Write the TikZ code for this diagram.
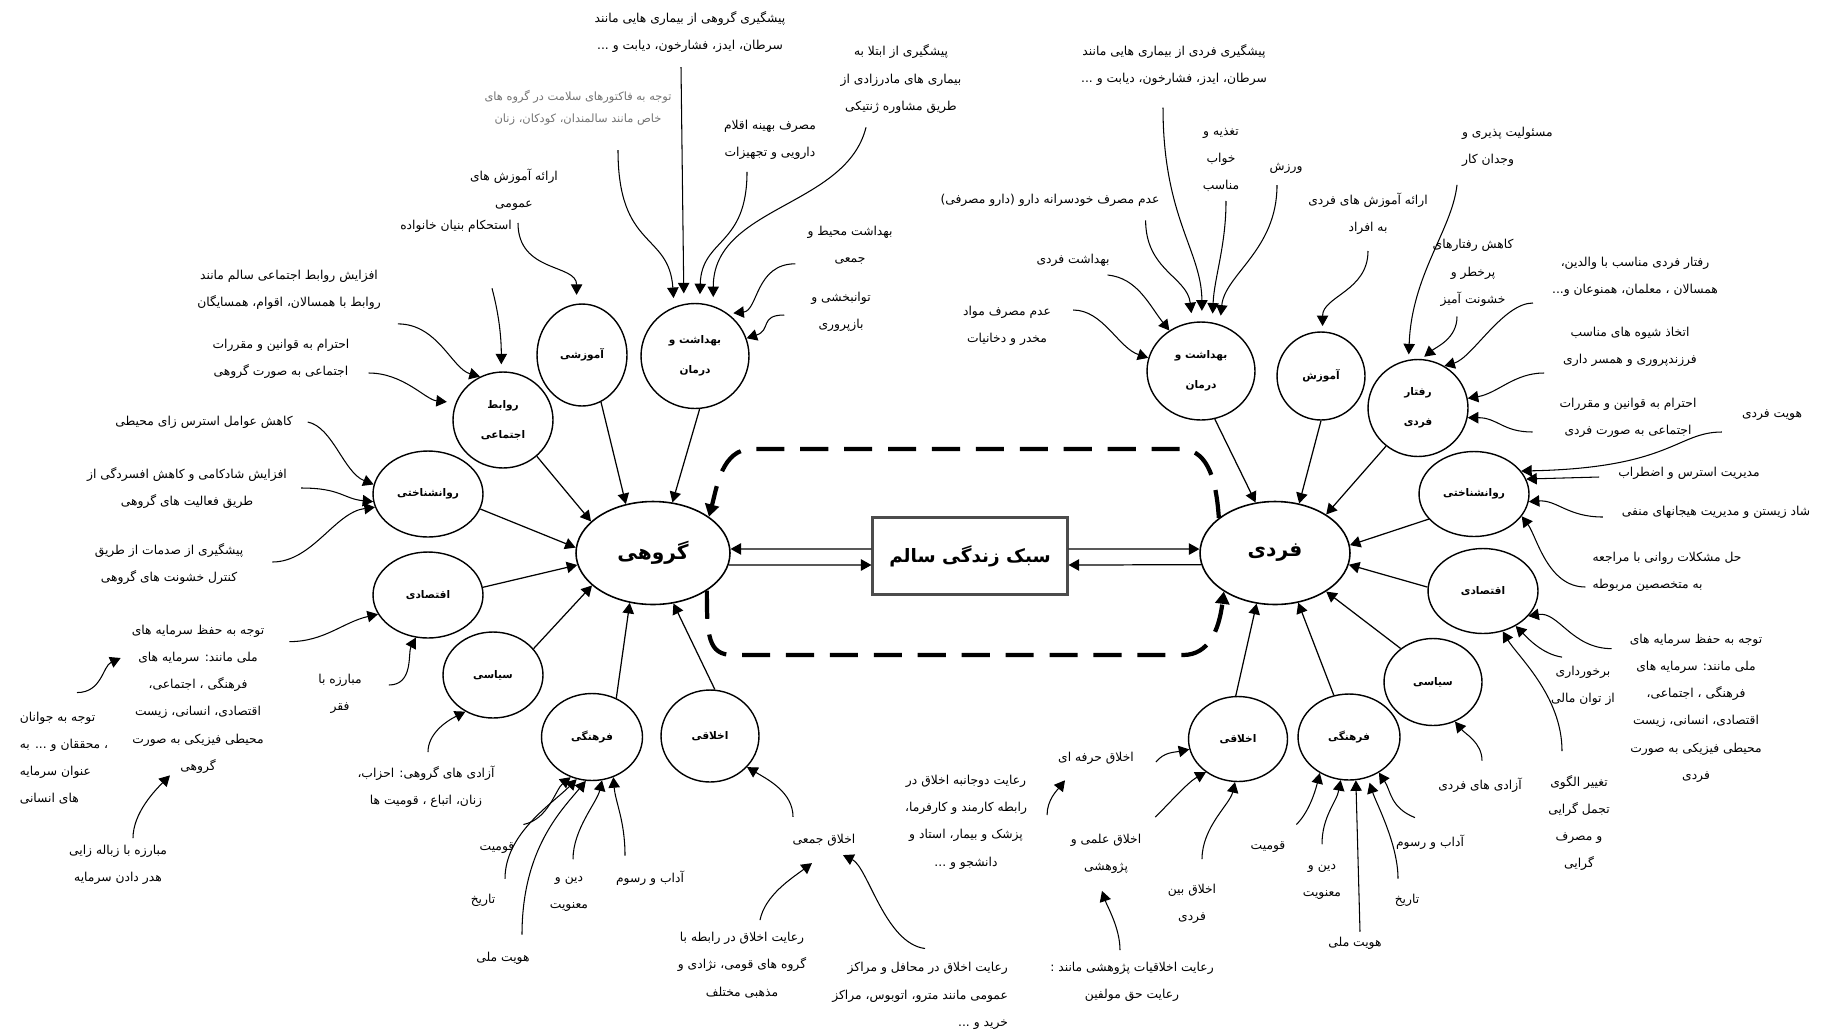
\documentclass[tikz,border=0pt]{standalone}
\usepackage{fontspec}
\usetikzlibrary{shapes.geometric,arrows.meta}
\newfontfamily\fafont[Script=Arabic]{DejaVu Sans}
\TeXXeTstate=1
\newcommand{\fa}[1]{\beginR #1\endR}

\begin{document}
\begin{tikzpicture}[x=0.02cm,y=-0.02cm,
	>={Triangle[length=6pt,width=6.5pt]},
	lbl/.style={font=\fafont\fontsize{7}{15.5}\selectfont,align=center,inner sep=1pt},
	faint/.style={lbl,text=black!55,font=\fafont\fontsize{6.5}{12.5}\selectfont},
	part/.style={ellipse,draw,line width=0.8pt,inner sep=0pt,align=center,font=\fafont\bfseries\fontsize{6}{17}\selectfont},
	core/.style={ellipse,draw,line width=0.9pt,inner sep=0pt,font=\fafont\bfseries\fontsize{11.5}{14}\selectfont},
	link/.style={->,line width=0.7pt},
	feed/.style={->,line width=0.6pt},
	backflow/.style={->,line width=2.4pt,dash pattern=on 16pt off 9pt,>={Triangle[length=7pt,width=8pt]}}]
	\useasboundingbox (0,0) rectangle (1821,1035);

	\node[core,minimum width=3.08cm,minimum height=2.06cm] (grp) at (653,553) {\fa{گروهی}};
	\node[core,minimum width=3cm,minimum height=2.06cm] (ind) at (1275,553) {\fa{فردی}};
	\node[draw=black!70,line width=1.2pt,minimum width=3.9cm,minimum height=1.54cm,font=\fafont\bfseries\fontsize{10.5}{13}\selectfont] (life) at (970,556) {\fa{سبک زندگی سالم}};

	\node[part,minimum width=2cm,minimum height=1.92cm] (relG) at (503,420) {\fa{روابط}\\\fa{اجتماعی}};
	\node[part,minimum width=1.8cm,minimum height=2.04cm] (eduG) at (582,355) {\fa{آموزشی}};
	\node[part,minimum width=2.16cm,minimum height=2.1cm] (hltG) at (695,356) {\fa{بهداشت و}\\\fa{درمان}};
	\node[part,minimum width=2.2cm,minimum height=1.72cm] (psyG) at (428,494) {\fa{روانشناختی}};
	\node[part,minimum width=2.2cm,minimum height=1.72cm] (ecoG) at (428,595) {\fa{اقتصادی}};
	\node[part,minimum width=2cm,minimum height=1.72cm] (polG) at (493,675) {\fa{سیاسی}};
	\node[part,minimum width=2.02cm,minimum height=1.74cm] (culG) at (592,737) {\fa{فرهنگی}};
	\node[part,minimum width=1.96cm,minimum height=1.84cm] (ethG) at (710,736) {\fa{اخلاقی}};

	\node[part,minimum width=2.16cm,minimum height=1.96cm] (hltI) at (1201,371) {\fa{بهداشت و}\\\fa{درمان}};
	\node[part,minimum width=1.76cm,minimum height=1.76cm] (eduI) at (1321,376) {\fa{آموزش}};
	\node[part,minimum width=2cm,minimum height=1.94cm] (behI) at (1418,408) {\fa{رفتار}\\\fa{فردی}};
	\node[part,minimum width=2.2cm,minimum height=1.7cm] (psyI) at (1474,494) {\fa{روانشناختی}};
	\node[part,minimum width=2.2cm,minimum height=1.7cm] (ecoI) at (1483,591) {\fa{اقتصادی}};
	\node[part,minimum width=1.96cm,minimum height=1.74cm] (polI) at (1433,682) {\fa{سیاسی}};
	\node[part,minimum width=2.04cm,minimum height=1.72cm] (culI) at (1349,737) {\fa{فرهنگی}};
	\node[part,minimum width=1.98cm,minimum height=1.7cm] (ethI) at (1238,739) {\fa{اخلاقی}};

	\node[lbl] (g1) at (690,32) {\fa{پیشگیری گروهی از بیماری هایی مانند}\\\fa{سرطان، ایدز، فشارخون، دیابت و ...}};
	\node[faint] (g2) at (578,108) {\fa{توجه به فاکتورهای سلامت در گروه های}\\\fa{خاص مانند سالمندان، کودکان، زنان}};
	\node[lbl] (g3) at (770,140) {\fa{مصرف بهینه اقلام}\\\fa{دارویی و تجهیزات}};
	\node[lbl] (g4) at (901,79) {\fa{پیشگیری از ابتلا به}\\\fa{بیماری های مادرزادی از}\\\fa{طریق مشاوره ژنتیکی}};
	\node[lbl] (g5) at (514,190) {\fa{ارائه آموزش های}\\\fa{عمومی}};
	\node[lbl] (g6) at (850,245) {\fa{بهداشت محیط و}\\\fa{جمعی}};
	\node[lbl] (g7) at (841,312) {\fa{توانبخشی و}\\\fa{بازپروری}};
	\node[lbl] (g8) at (456,226) {\fa{استحکام بنیان خانواده}};
	\node[lbl] (g9) at (289,290) {\fa{افزایش روابط اجتماعی سالم مانند}\\\fa{روابط با همسالان، اقوام، همسایگان}};
	\node[lbl] (g10) at (281,359) {\fa{احترام به قوانین و مقررات}\\\fa{اجتماعی به صورت گروهی}};
	\node[lbl] (g11) at (204,422) {\fa{کاهش عوامل استرس زای محیطی}};
	\node[lbl] (g12) at (187,488) {\fa{افزایش شادکامی و کاهش افسردگی از}\\\fa{طریق فعالیت های گروهی}};
	\node[lbl] (g13) at (169,564) {\fa{پیشگیری از صدمات از طریق}\\\fa{کنترل خشونت های گروهی}};
	\node[lbl] (g14) at (198,699) {\fa{توجه به حفظ سرمایه های}\\\fa{ملی مانند: سرمایه های}\\\fa{فرهنگی ، اجتماعی،}\\\fa{اقتصادی، انسانی، زیست}\\\fa{محیطی فیزیکی به صورت}\\\fa{گروهی}};
	\node[lbl] (g15) at (340,694) {\fa{مبارزه با}\\\fa{فقر}};
	\node[lbl,align=left] (g16) at (64,758) {\fa{توجه به جوانان}\\\fa{، محققان و ... به}\\\fa{عنوان سرمایه}\\\fa{های انسانی}};
	\node[lbl] (g17) at (118,865) {\fa{مبارزه با زباله زایی}\\\fa{هدر دادن سرمایه}};
	\node[lbl] (g18) at (426,787) {\fa{آزادی های گروهی: احزاب،}\\\fa{زنان، اتباع ، قومیت ها}};
	\node[lbl] (g19) at (497,848) {\fa{قومیت}};
	\node[lbl] (g20) at (483,900) {\fa{تاریخ}};
	\node[lbl] (g21) at (503,958) {\fa{هویت ملی}};
	\node[lbl] (g22) at (569,894) {\fa{دین و}\\\fa{معنویت}};
	\node[lbl] (g23) at (650,878) {\fa{آداب و رسوم}};
	\node[lbl] (g24) at (824,840) {\fa{اخلاق جمعی}};
	\node[lbl] (g25) at (742,965) {\fa{رعایت اخلاق در رابطه با}\\\fa{گروه های قومی، نژادی و}\\\fa{مذهبی مختلف}};
	\node[lbl,align=right,anchor=east] (g26) at (1010,996) {\fa{رعایت اخلاق در محافل و مراکز}\\\fa{عمومی مانند مترو، اتوبوس، مراکز}\\\fa{خرید و ...}};

	\node[lbl] (f1) at (1174,65) {\fa{پیشگیری فردی از بیماری هایی مانند}\\\fa{سرطان، ایدز، فشارخون، دیابت و ...}};
	\node[lbl] (f2) at (1221,160) {\fa{تغذیه و}\\\fa{خواب}\\\fa{مناسب}};
	\node[lbl] (f3) at (1286,168) {\fa{ورزش}};
	\node[lbl] (f4) at (1050,200) {\fa{عدم مصرف خودسرانه دارو (دارو مصرفی)}};
	\node[lbl] (f5) at (1073,260) {\fa{بهداشت فردی}};
	\node[lbl] (f6) at (1007,326) {\fa{عدم مصرف مواد}\\\fa{مخدر و دخانیات}};
	\node[lbl] (f7) at (1368,214) {\fa{ارائه آموزش های فردی}\\\fa{به افراد}};
	\node[lbl,align=left,anchor=west] (f8) at (1460,147) {\fa{مسئولیت پذیری و}\\\fa{وجدان کار}};
	\node[lbl] (f9) at (1473,273) {\fa{کاهش رفتارهای}\\\fa{پرخطر و}\\\fa{خشونت آمیز}};
	\node[lbl] (f10) at (1635,277) {\fa{رفتار فردی مناسب با والدین،}\\\fa{همسالان ، معلمان، همنوعان و...}};
	\node[lbl] (f11) at (1630,347) {\fa{اتخاذ شیوه های مناسب}\\\fa{فرزندپروری و همسر داری}};
	\node[lbl] (f12) at (1628,418) {\fa{احترام به قوانین و مقررات}\\\fa{اجتماعی به صورت فردی}};
	\node[lbl] (f13) at (1772,415) {\fa{هویت فردی}};
	\node[lbl] (f14) at (1689,473) {\fa{مدیریت استرس و اضطراب}};
	\node[lbl] (f15) at (1716,512) {\fa{شاد زیستن و مدیریت هیجانهای منفی}};
	\node[lbl,align=left] (f16) at (1667,572) {\fa{حل مشکلات روانی با مراجعه}\\\fa{به متخصصین مربوطه}};
	\node[lbl] (f17) at (1696,708) {\fa{توجه به حفظ سرمایه های}\\\fa{ملی مانند: سرمایه های}\\\fa{فرهنگی ، اجتماعی،}\\\fa{اقتصادی، انسانی، زیست}\\\fa{محیطی فیزیکی به صورت}\\\fa{فردی}};
	\node[lbl] (f18) at (1583,686) {\fa{برخورداری}\\\fa{از توان مالی}};
	\node[lbl] (f19) at (1579,823) {\fa{تغییر الگوی}\\\fa{تجمل گرایی}\\\fa{و مصرف}\\\fa{گرایی}};
	\node[lbl] (f20) at (1480,785) {\fa{آزادی های فردی}};
	\node[lbl] (f21) at (1268,847) {\fa{قومیت}};
	\node[lbl] (f22) at (1322,882) {\fa{دین و}\\\fa{معنویت}};
	\node[lbl] (f23) at (1355,943) {\fa{هویت ملی}};
	\node[lbl] (f24) at (1407,900) {\fa{تاریخ}};
	\node[lbl] (f25) at (1430,842) {\fa{آداب و رسوم}};
	\node[lbl] (f26) at (1096,758) {\fa{اخلاق حرفه ای}};
	\node[lbl] (f27) at (966,822) {\fa{رعایت دوجانبه اخلاق در}\\\fa{رابطه کارمند و کارفرما،}\\\fa{پزشک و بیمار، استاد و}\\\fa{دانشجو و ...}};
	\node[lbl] (f28) at (1106,854) {\fa{اخلاق علمی و}\\\fa{پژوهشی}};
	\node[lbl] (f29) at (1192,904) {\fa{اخلاق بین}\\\fa{فردی}};
	\node[lbl] (f30) at (1132,982) {\fa{رعایت اخلاقیات پژوهشی مانند :}\\\fa{رعایت حق مولفین}};

	\coordinate (tr) at (1180,449);
	\coordinate (tl) at (752,449);
	\coordinate (bl) at (733,655);
	\coordinate (br) at (1183,655);

	\draw[link] ([yshift=0.14cm]life.west) -- (grp.3);
	\draw[link] (grp.-9) -- ([yshift=-0.18cm]life.west);
	\draw[link] ([yshift=0.14cm]life.east) -- (ind.177);
	\draw[link] (ind.189) -- ([yshift=-0.18cm]life.east);
	\draw[backflow] (ind.148) .. controls +(-3,-45) and +(25,0) .. (tr) -- (tl) .. controls +(-30,0) and +(8,-30) .. (grp.33);
	\draw[backflow] (grp.-35) .. controls +(0,45) and +(-25,0) .. (bl) -- (br) .. controls +(25,0) and +(-5,40) .. (ind.-143);

	\draw[link] (relG.-47) -- (grp.153);
	\draw[link] (eduG.-68) -- (grp.119);
	\draw[link] (hltG.-85) -- (grp.69);
	\draw[link] (psyG.-16) -- (grp.176);
	\draw[link] (ecoG.8) -- (grp.189);
	\draw[link] (polG.33) -- (grp.208);
	\draw[link] (culG.58) -- (grp.245);
	\draw[link] (ethG.84) -- (grp.292);
	\draw[link] (hltI.-74) -- (ind.111);
	\draw[link] (eduI.-90) -- (ind.64);
	\draw[link] (behI.230) -- (ind.37);
	\draw[link] (psyI.209) -- (ind.6);
	\draw[link] (ecoI.176) -- (ind.-9);
	\draw[link] (polI.134) -- (ind.-37);
	\draw[link] (culI.110) -- (ind.-65);
	\draw[link] (ethI.93) -- (ind.250);

	\draw[feed,shorten >=6pt] ([xshift=-0.18cm,yshift=-0.25cm]g1.south) -- (hltG.102);
	\draw[feed,shorten >=5pt] ([xshift=0.8cm,yshift=-0.45cm]g2.south) .. controls +(0,100) and +(-5,-75) .. (hltG.113);
	\draw[feed,shorten >=5pt] ([xshift=-0.46cm,yshift=-0.2cm]g3.south) .. controls +(0,75) and +(2,-65) .. (hltG.85);
	\draw[feed,shorten >=5pt] ([xshift=-0.7cm,yshift=-0.24cm]g4.south) .. controls +(-20,80) and +(0,-100) .. (hltG.70);
	\draw[feed,shorten >=5pt] ([xshift=0.08cm,yshift=-0.2cm]g5.south) .. controls +(0,50) and +(0,-40) .. (eduG.96);
	\draw[feed,shorten >=3pt] ([xshift=-0.2cm,yshift=0.05cm]g6.south west) .. controls +(-40,0) and +(30,-3) .. (hltG.52);
	\draw[feed] ([xshift=-0.5cm,yshift=-0.06cm]g7.west) .. controls +(-25,0) and +(25,-8) .. (hltG.19);
	\draw[feed,shorten >=4pt] ([xshift=0.72cm,yshift=-1.08cm]g8.south) .. controls +(8,30) and +(0,-30) .. (relG.92);
	\draw[feed] ([xshift=0.3cm,yshift=-0.24cm]g9.south east) .. controls +(40,0) and +(-28,-8) .. (relG.118);
	\draw[feed,shorten >=5pt] ([xshift=0.34cm,yshift=-0.28cm]g10.east) .. controls +(35,0) and +(-30,-3) .. (relG.160);
	\draw[feed] ([xshift=0.26cm]g11.east) .. controls +(25,5) and +(-30,-12) .. (psyG.170);
	\draw[feed] ([xshift=0.24cm]g12.east) .. controls +(40,0) and +(-30,-3) .. (psyG.188);
	\draw[feed] ([xshift=0.54cm,yshift=0.04cm]g13.east) .. controls +(40,0) and +(-40,5) .. (psyG.194);
	\draw[feed] ([xshift=0.46cm,yshift=-0.38cm]g14.north east) .. controls +(35,0) and +(-35,8) .. (ecoG.201);
	\draw[feed] ([xshift=0.5cm,yshift=0.18cm]g15.east) .. controls +(25,0) and +(-8,15) .. (ecoG.254);
	\draw[feed] ([xshift=0.26cm,yshift=0.34cm]g16.north) .. controls +(25,0) and +(-18,8) .. ([xshift=-0.18cm,yshift=0.82cm]g14.west);
	\draw[feed] ([xshift=0.3cm,yshift=0.1cm]g17.north) .. controls +(0,-25) and +(-15,15) .. ([xshift=-0.56cm]g14.south);
	\draw[feed] ([xshift=0.04cm,yshift=0.24cm]g18.north) .. controls +(0,-18) and +(-20,10) .. (polG.233);
	\draw[feed] ([xshift=0.14cm,yshift=0.32cm]g19.north east) .. controls +(25,-5) and +(-15,12) .. (culG.242);
	\draw[feed] ([xshift=0.44cm,yshift=0.26cm]g20.north) .. controls +(0,-45) and +(-25,25) .. (culG.250);
	\draw[feed] ([xshift=0.38cm,yshift=0.3cm]g21.north) .. controls +(0,-85) and +(-25,30) .. (culG.262);
	\draw[feed] ([xshift=0.08cm,yshift=0.3cm]g22.north) .. controls +(0,-30) and +(-5,22) .. (culG.283);
	\draw[feed] ([xshift=-0.5cm,yshift=0.26cm]g23.north) .. controls +(0,-35) and +(2,25) .. (culG.298);
	\draw[feed] ([xshift=-0.62cm,yshift=0.3cm]g24.north) .. controls +(0,-25) and +(20,12) .. (ethG.320);
	\draw[feed] ([xshift=0.36cm,yshift=0.2cm]g25.north) .. controls +(5,-25) and +(-20,15) .. ([xshift=-0.24cm,yshift=-0.3cm]g24.south);
	\draw[feed] ([xshift=-1.7cm,yshift=0.24cm]g26.north east) .. controls +(-40,-5) and +(25,12) .. ([xshift=0.38cm,yshift=-0.14cm]g24.south);

	\draw[feed,shorten >=6pt] ([xshift=-0.22cm,yshift=-0.4cm]f1.south) .. controls +(0,110) and +(0,-70) .. (hltI.89);
	\draw[feed,shorten >=5pt] ([xshift=0.1cm,yshift=-0.14cm]f2.south) .. controls +(0,45) and +(2,-45) .. (hltI.77);
	\draw[feed,shorten >=5pt] ([xshift=-0.18cm,yshift=-0.2cm]f3.south) .. controls +(0,65) and +(5,-50) .. (hltI.68);
	\draw[feed,shorten >=5pt] ([xshift=-0.32cm,yshift=-0.24cm]f4.south east) .. controls +(0,50) and +(-5,-45) .. (hltI.100);
	\draw[feed] ([xshift=-0.08cm,yshift=-0.3cm]f5.east) .. controls +(30,3) and +(-20,-25) .. (hltI.128);
	\draw[feed] ([xshift=0.4cm,yshift=0.32cm]f6.east) .. controls +(30,0) and +(-30,-10) .. (hltI.166);
	\draw[feed,shorten >=3pt] ([yshift=-0.28cm]f7.south) .. controls +(0,40) and +(0,-35) .. (eduI.88);
	\draw[feed,shorten >=3pt] ([xshift=-0.06cm,yshift=-0.32cm]f8.south west) .. controls +(-5,45) and +(3,-85) .. (behI.101);
	\draw[feed,shorten >=2pt] ([xshift=-0.32cm,yshift=-0.16cm]f9.south) .. controls +(0,22) and +(15,-12) .. (behI.86);
	\draw[feed] ([xshift=-0.34cm,yshift=-0.52cm]f10.west) .. controls +(-30,0) and +(28,-8) .. (behI.58);
	\draw[feed] ([xshift=-0.34cm,yshift=-0.52cm]f11.west) .. controls +(-30,0) and +(30,-5) .. (behI.11);
	\draw[feed] ([xshift=-0.5cm,yshift=-0.28cm]f12.west) .. controls +(-30,0) and +(30,0) .. (behI.349);
	\draw[feed] ([xshift=-0.36cm,yshift=-0.34cm]f13.west) .. controls +(-45,0) and +(150,-3) .. (psyI.26);
	\draw[feed] ([xshift=-0.34cm,yshift=-0.08cm]f14.west) -- (psyI.16);
	\draw[feed] ([xshift=-0.34cm,yshift=-0.1cm]f15.west) .. controls +(-35,0) and +(28,-2) .. (psyI.352);
	\draw[feed] ([xshift=-0.1cm,yshift=-0.3cm]f16.west) .. controls +(-38,0) and +(15,20) .. (psyI.335);
	\draw[feed] ([xshift=-0.32cm,yshift=-0.34cm]f17.north west) .. controls +(-40,0) and +(30,-5) .. (ecoI.331);
	\draw[feed] ([xshift=-0.42cm,yshift=0.14cm]f18.north) .. controls +(-20,-3) and +(12,12) .. (ecoI.313);
	\draw[feed] ([xshift=-0.34cm,yshift=0.44cm]f19.north) .. controls +(0,-55) and +(15,25) .. (ecoI.296);
	\draw[feed] ([xshift=0.04cm,yshift=0.3cm]f20.north) .. controls +(0,-18) and +(10,12) .. (polI.299);
	\draw[feed] ([xshift=0.18cm,yshift=0.3cm]f21.north east) .. controls +(12,-12) and +(-5,20) .. (culI.231);
	\draw[feed] ([yshift=0.36cm]f22.north) .. controls +(0,-28) and +(-4,22) .. (culI.259);
	\draw[feed] ([xshift=0.1cm,yshift=0.06cm]f23.north) -- (culI.279);
	\draw[feed,shorten >=3pt] ([xshift=-0.18cm,yshift=0.26cm]f24.north) .. controls +(0,-35) and +(8,25) .. (culI.295);
	\draw[feed] ([xshift=-0.3cm,yshift=0.3cm]f25.north) .. controls +(-25,-10) and +(12,18) .. (culI.310);
	\draw[feed] ([xshift=0.4cm,yshift=-0.08cm]f26.east) .. controls +(8,-10) and +(-15,3) .. (ethI.192);
	\draw[feed] ([xshift=0.36cm,yshift=0.14cm]f27.east) .. controls +(0,-15) and +(-8,10) .. ([xshift=-0.62cm,yshift=-0.28cm]f26.south);
	\draw[feed] ([xshift=0.24cm,yshift=0.3cm]f28.north east) .. controls +(15,-15) and +(-18,10) .. (ethI.226);
	\draw[feed] ([xshift=0.2cm,yshift=0.46cm]f29.north) .. controls +(0,-32) and +(-5,22) .. (ethI.266);
	\draw[feed] ([xshift=-0.24cm,yshift=0.2cm]f30.north) .. controls +(0,-22) and +(5,15) .. ([xshift=-0.08cm,yshift=-0.3cm]f28.south);
\end{tikzpicture}
\end{document}
